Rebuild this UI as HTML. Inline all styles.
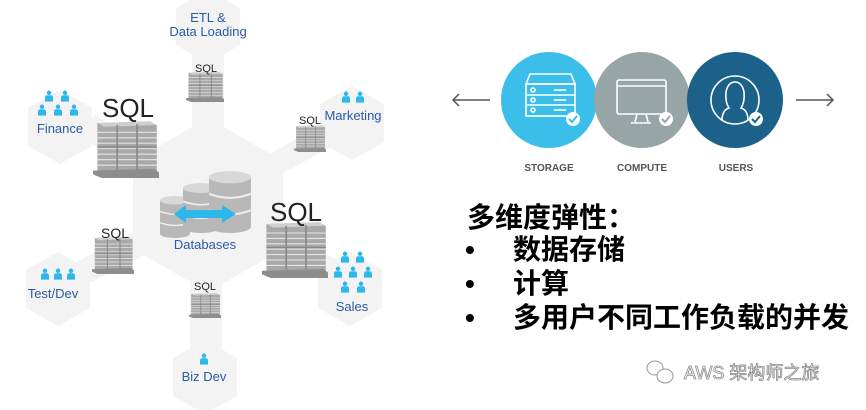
<!DOCTYPE html>
<html><head><meta charset="utf-8"><style>
html,body{margin:0;padding:0;background:#fff;width:866px;height:410px;overflow:hidden}
svg{position:absolute;left:0;top:0}
.t{position:absolute;font-family:"Liberation Sans","Noto Sans CJK SC",sans-serif;font-weight:bold;color:#000;font-size:28px;white-space:nowrap;line-height:34px}
</style></head><body>
<svg width="866" height="410" viewBox="0 0 866 410" xmlns="http://www.w3.org/2000/svg" font-family="Liberation Sans, sans-serif">
<defs>
<symbol id="box" viewBox="0 0 60 70" preserveAspectRatio="none">
<path d="M4 10 L52 8 L58 12 L58 62 L10 66 L4 62 Z" fill="#a9a9a9"/>
<path d="M4 10 L52 8 L58 12 L10 14 Z" fill="#cfcfcf"/>
<g stroke="#e6e6e6" stroke-width="1.2">
<line x1="4" y1="20" x2="58" y2="20"/><line x1="4" y1="26" x2="58" y2="26"/><line x1="4" y1="32" x2="58" y2="32"/><line x1="4" y1="38" x2="58" y2="38"/><line x1="4" y1="44" x2="58" y2="44"/><line x1="4" y1="50" x2="58" y2="50"/><line x1="4" y1="56" x2="58" y2="56"/>
</g>
<g stroke="#888" stroke-width="1.5"><line x1="22" y1="12" x2="22" y2="64"/><line x1="40" y1="11" x2="40" y2="63"/><line x1="4" y1="36" x2="58" y2="36"/></g>
<path d="M0 62 L56 60 L60 64 L60 70 L8 70 L0 66 Z" fill="#8d8d8d"/>
</symbol>
<symbol id="p" viewBox="0 0 10 14"><circle cx="5" cy="3" r="2.8" fill="#2db8ec"/><path d="M0 14 L0 9 Q0 6 3 6 L7 6 Q10 6 10 9 L10 14 Z" fill="#2db8ec"/></symbol>
<symbol id="cyl" viewBox="0 0 40 60" preserveAspectRatio="none">
<rect x="0" y="6" width="40" height="48" fill="#b8b8b8"/>
<ellipse cx="20" cy="54" rx="20" ry="6" fill="#b8b8b8"/>
<ellipse cx="20" cy="6" rx="20" ry="6" fill="#d8d8d8"/>
<path d="M0 22 Q20 30 40 22 M0 38 Q20 46 40 38" stroke="#eee" stroke-width="2" fill="none"/>
</symbol>
</defs>
<g fill="#f3f3f3">
<polygon points="208,118 283,161 283,249 208,292 133,249 133,161"/>
<polygon points="208,-10 240,8 240,45 208,63 176,45 176,8"/>
<polygon points="60,90 92,108 92,146 60,164 28,146 28,108"/>
<polygon points="352,86 384,104 384,142 352,160 320,142 320,104"/>
<polygon points="58,252 90,270 90,308 58,326 26,308 26,270"/>
<polygon points="350,252 382,270 382,308 350,326 318,308 318,270"/>
<polygon points="205,340 237,358 237,396 205,414 173,396 173,358"/>
<rect x="192" y="40" width="32" height="100"/>
<rect x="190" y="280" width="32" height="90"/>
<polygon points="75,135 95,115 180,165 165,185"/>
<polygon points="330,120 345,140 260,185 250,165"/>
<polygon points="75,290 60,270 150,225 165,245"/>
<polygon points="335,285 350,265 260,225 245,245"/>
</g>
<use href="#box" x="93" y="114" width="66" height="64"/>
<text x="128" y="117" font-size="26" text-anchor="middle" fill="#222">SQL</text>
<use href="#box" x="262" y="215" width="66" height="63"/>
<text x="296" y="221" font-size="26" text-anchor="middle" fill="#222">SQL</text>
<use href="#box" x="186" y="68" width="38" height="34"/>
<text x="206" y="72" font-size="11" text-anchor="middle" fill="#222">SQL</text>
<use href="#box" x="294" y="122" width="32" height="30"/>
<text x="310" y="124" font-size="11" text-anchor="middle" fill="#222">SQL</text>
<use href="#box" x="92" y="232" width="42" height="42"/>
<text x="115" y="238" font-size="14" text-anchor="middle" fill="#222">SQL</text>
<use href="#box" x="189" y="290" width="32" height="28"/>
<text x="205" y="290" font-size="11" text-anchor="middle" fill="#222">SQL</text>
<use href="#cyl" x="160" y="196" width="30" height="42"/>
<use href="#cyl" x="183" y="183" width="36" height="50"/>
<use href="#cyl" x="209" y="171" width="42" height="62"/>
<path d="M174 214 L186 205 L186 210 L222 210 L222 205 L236 214 L222 223 L222 218 L186 218 L186 223 Z" fill="#2db8ec"/>
<text x="205" y="249" font-size="13" text-anchor="middle" fill="#2b5aa8">Databases</text>
<g font-size="13" fill="#2b5aa8" text-anchor="middle">
<text x="208" y="22">ETL &amp;</text>
<text x="208" y="36">Data Loading</text>
<text x="60" y="133">Finance</text>
<text x="353" y="120">Marketing</text>
<text x="53" y="298">Test/Dev</text>
<text x="352" y="311">Sales</text>
<text x="204" y="381">Biz Dev</text>
</g>
<g>
<use href="#p" x="45" y="90" width="8" height="12"/><use href="#p" x="61" y="90" width="8" height="12"/>
<use href="#p" x="38" y="104" width="8" height="12"/><use href="#p" x="54" y="104" width="8" height="12"/><use href="#p" x="70" y="104" width="8" height="12"/>
<use href="#p" x="342" y="91" width="8" height="12"/><use href="#p" x="356" y="91" width="8" height="12"/>
<use href="#p" x="41" y="268" width="8" height="12"/><use href="#p" x="54" y="268" width="8" height="12"/><use href="#p" x="67" y="268" width="8" height="12"/>
<use href="#p" x="341" y="251" width="8" height="12"/><use href="#p" x="356" y="251" width="8" height="12"/>
<use href="#p" x="334" y="266" width="8" height="12"/><use href="#p" x="349" y="266" width="8" height="12"/><use href="#p" x="364" y="266" width="8" height="12"/>
<use href="#p" x="341" y="281" width="8" height="12"/><use href="#p" x="357" y="281" width="8" height="12"/>
<use href="#p" x="200" y="353" width="8" height="12"/>
</g>
<g stroke="#555" stroke-width="1.5" fill="none">
<line x1="453" y1="100" x2="490" y2="100"/><path d="M459 94 L453 100 L459 106"/>
<line x1="796" y1="100" x2="833" y2="100"/><path d="M827 94 L833 100 L827 106"/>
</g>
<circle cx="549" cy="100" r="48" fill="#3bbfea"/>
<circle cx="642" cy="100" r="48" fill="#97a5a6"/>
<circle cx="735" cy="100" r="48" fill="#1c6189"/>
<g stroke="#fff" stroke-width="1.6" fill="none">
<path d="M526 84 L530 74 L571 74 L575 84 Z"/>
<rect x="526" y="84" width="49" height="32"/>
<line x1="526" y1="95" x2="575" y2="95"/><line x1="526" y1="105" x2="575" y2="105"/>
<circle cx="533" cy="90" r="2"/><circle cx="533" cy="100" r="2"/><circle cx="533" cy="110" r="2"/>
<line x1="554" y1="90" x2="566" y2="90"/><line x1="554" y1="100" x2="566" y2="100"/><line x1="554" y1="110" x2="566" y2="110"/>
<rect x="617" y="80" width="49" height="34" rx="2"/><line x1="617" y1="86" x2="666" y2="86"/>
<line x1="637" y1="114" x2="635" y2="122"/><line x1="646" y1="114" x2="648" y2="122"/><line x1="631" y1="123" x2="651" y2="123"/>
<circle cx="735" cy="100" r="24"/>
<path d="M722 121 Q722 110 729 108 Q725 102 726 92 Q728 82 735 82 Q742 82 744 92 Q745 102 741 108 Q748 110 748 121"/>
</g>
<g>
<circle cx="573" cy="119" r="7" fill="#fff"/><path d="M569 119 L572 122 L577 116" stroke="#3bbfea" stroke-width="2" fill="none"/>
<circle cx="666" cy="119" r="7" fill="#fff"/><path d="M662 119 L665 122 L670 116" stroke="#97a5a6" stroke-width="2" fill="none"/>
<circle cx="756" cy="119" r="7" fill="#fff"/><path d="M752 119 L755 122 L760 116" stroke="#1c6189" stroke-width="2" fill="none"/>
</g>
<g font-size="10" font-weight="bold" fill="#555" text-anchor="middle">
<text x="549" y="171">STORAGE</text><text x="642" y="171">COMPUTE</text><text x="736" y="171">USERS</text>
</g>
<g stroke="#999" fill="#fff" stroke-width="1">
<ellipse cx="655" cy="368" rx="8" ry="7"/><ellipse cx="665" cy="376" rx="8" ry="7"/>
</g>
<text x="684" y="379" font-size="18" fill="#fff" stroke="#8a8a8a" stroke-width="0.8" font-family="Liberation Sans, Noto Sans CJK SC, sans-serif">AWS 架构师之旅</text>
</svg>
<div class="t" style="left:467px;top:201px">多维度弹性：</div>
<div class="t" style="left:465px;top:233px">•</div><div class="t" style="left:513px;top:233px">数据存储</div>
<div class="t" style="left:465px;top:267px">•</div><div class="t" style="left:513px;top:267px">计算</div>
<div class="t" style="left:465px;top:301px">•</div><div class="t" style="left:513px;top:301px">多用户不同工作负载的并发</div>
</body></html>
